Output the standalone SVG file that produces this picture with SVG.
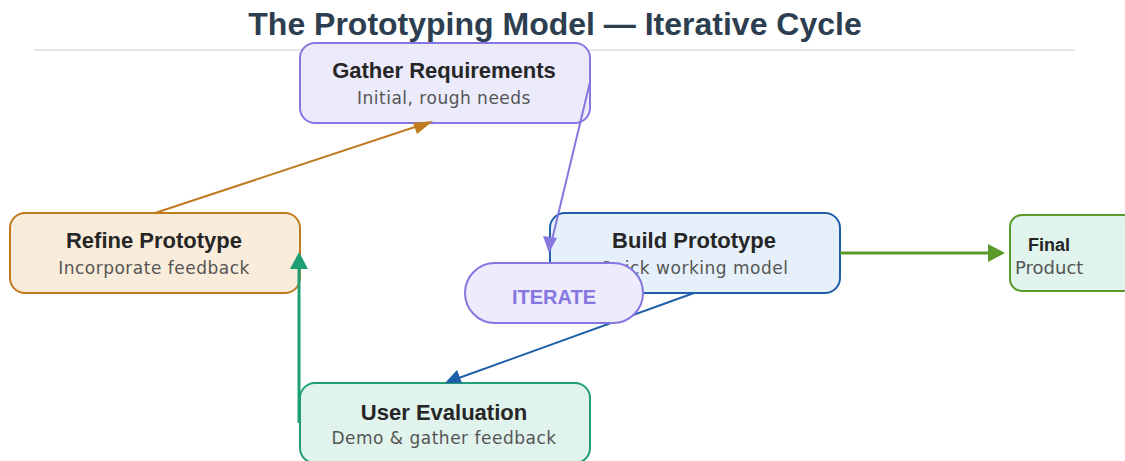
<svg xmlns="http://www.w3.org/2000/svg" width="1125" height="461" viewBox="0 0 1125 461">
<style>
.t{font-family:"Liberation Sans",Arial,sans-serif;font-weight:bold;font-size:22px;fill:#262626;text-anchor:middle}
.s{font-family:"DejaVu Sans",sans-serif;font-size:17px;letter-spacing:0.5px;fill:#555;text-anchor:middle}
.c{fill:none;stroke-width:2}
</style>
<rect width="1125" height="461" fill="#fff"/>
<text x="555" y="35" font-family="Liberation Sans,Arial,sans-serif" font-weight="bold" font-size="32" fill="#2c3e50" text-anchor="middle">The Prototyping Model — Iterative Cycle</text>
<line x1="34" y1="50" x2="1075" y2="50" stroke="#cccccc" stroke-width="1"/>
<g id="gather"><rect x="300" y="43" width="290" height="80" rx="15" fill="#ecebfc" stroke="#8576e0" stroke-width="2"/><text class="t" x="444" y="78">Gather Requirements</text><text class="s" x="444" y="104">Initial, rough needs</text></g>
<g id="refine"><rect x="10" y="213" width="290" height="80" rx="15" fill="#faecda" stroke="#c07a1f" stroke-width="2"/><text class="t" x="154" y="248">Refine Prototype</text><text class="s" x="154" y="274">Incorporate feedback</text></g>
<g id="build"><rect x="550" y="213" width="290" height="80" rx="15" fill="#e6f0fa" stroke="#1f5fa8" stroke-width="2"/><text class="t" x="694" y="248">Build Prototype</text><text class="s" x="694" y="274">Quick working model</text></g>
<g id="evaluate"><rect x="300" y="383" width="290" height="80" rx="15" fill="#e0f3ec" stroke="#1f9e73" stroke-width="2"/><text class="t" x="444" y="420">User Evaluation</text><text class="s" x="444" y="444">Demo &amp; gather feedback</text></g>
<g id="final"><rect x="1010" y="215" width="125" height="76" rx="12" fill="#e0f3ec" stroke="#5a9a2a" stroke-width="2"/><text x="1028" y="251" font-family="Liberation Sans,Arial,sans-serif" font-weight="bold" font-size="18" fill="#262626">Final</text><text x="1015" y="274" font-family="DejaVu Sans,sans-serif" font-size="18" fill="#555">Product</text></g>
<g id="connectors">
<line class="c" x1="155" y1="213" x2="424" y2="124" stroke="#c07a1f"/><path d="M433,121L417,134L413,123z" fill="#c07a1f"/>
<line class="c" x1="590" y1="82" x2="552" y2="240" stroke="#8576e0"/><path d="M549,253L543,236L557,238z" fill="#8576e0"/>
<line class="c" x1="694" y1="293" x2="456" y2="379" stroke="#1f5fa8"/><path d="M445,383L457,370L462,383z" fill="#1f5fa8"/>
<line x1="299" y1="423" x2="299" y2="268" stroke="#1f9e73" stroke-width="3"/><path d="M299,252L290,269L308,269z" fill="#1f9e73"/>
<line x1="840" y1="253" x2="990" y2="253" stroke="#5a9a2a" stroke-width="3"/><path d="M1005,253L988,244L988,262z" fill="#5a9a2a"/>
</g>
<g id="iterate"><rect x="465" y="263" width="178" height="60" rx="30" fill="#eeebfc" stroke="#8576e0" stroke-width="2"/><text x="554" y="304" font-family="Liberation Sans,Arial,sans-serif" font-weight="bold" font-size="20" fill="#8576e0" text-anchor="middle">ITERATE</text></g>
</svg>
